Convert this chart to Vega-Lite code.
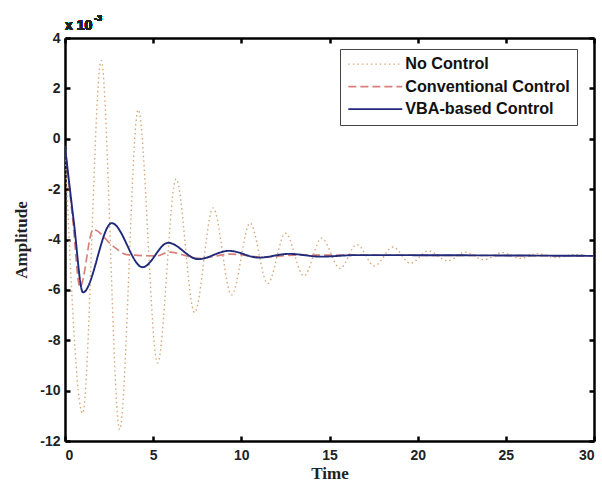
{
  "$schema": "https://vega.github.io/schema/vega-lite/v6.json",
  "width": 529,
  "height": 403,
  "autosize": {"type": "none"},
  "padding": {"left": 65, "top": 38, "right": 8, "bottom": 48},
  "background": "white",
  "config": {
    "view": {"stroke": null},
    "axis": {
      "domainColor": "#000",
      "domainWidth": 2.5,
      "tickColor": "#000",
      "tickWidth": 2.5,
      "tickSize": -5,
      "grid": false,
      "labelFont": "Liberation Sans",
      "labelFontWeight": "bold",
      "labelFontSize": 14,
      "labelColor": "#222",
      "titleFont": "Liberation Serif",
      "titleFontWeight": "bold",
      "titleFontSize": 17,
      "titleColor": "#222"
    }
  },
  "datasets": {
    "curves": [
      {"t": 0, "v": -0.3, "s": "No Control"},
      {"t": 1.0, "v": -10.9, "s": "No Control"},
      {"t": 2.05, "v": 3.1, "s": "No Control"},
      {"t": 3.1, "v": -11.55, "s": "No Control"},
      {"t": 4.15, "v": 1.15, "s": "No Control"},
      {"t": 5.25, "v": -8.9, "s": "No Control"},
      {"t": 6.3, "v": -1.6, "s": "No Control"},
      {"t": 7.35, "v": -6.9, "s": "No Control"},
      {"t": 8.4, "v": -2.75, "s": "No Control"},
      {"t": 9.45, "v": -6.2, "s": "No Control"},
      {"t": 10.5, "v": -3.35, "s": "No Control"},
      {"t": 11.5, "v": -5.75, "s": "No Control"},
      {"t": 12.5, "v": -3.75, "s": "No Control"},
      {"t": 13.55, "v": -5.45, "s": "No Control"},
      {"t": 14.55, "v": -3.95, "s": "No Control"},
      {"t": 15.6, "v": -5.15, "s": "No Control"},
      {"t": 16.55, "v": -4.2, "s": "No Control"},
      {"t": 17.55, "v": -5.05, "s": "No Control"},
      {"t": 18.6, "v": -4.3, "s": "No Control"},
      {"t": 19.6, "v": -4.95, "s": "No Control"},
      {"t": 20.6, "v": -4.45, "s": "No Control"},
      {"t": 21.7, "v": -4.85, "s": "No Control"},
      {"t": 22.7, "v": -4.5, "s": "No Control"},
      {"t": 23.75, "v": -4.8, "s": "No Control"},
      {"t": 24.8, "v": -4.52, "s": "No Control"},
      {"t": 25.8, "v": -4.75, "s": "No Control"},
      {"t": 26.8, "v": -4.56, "s": "No Control"},
      {"t": 27.85, "v": -4.72, "s": "No Control"},
      {"t": 28.9, "v": -4.6, "s": "No Control"},
      {"t": 30, "v": -4.68, "s": "No Control"},
      {"t": 0, "v": -0.3, "s": "Conventional Control"},
      {"t": 0.45, "v": -3.3, "s": "Conventional Control"},
      {"t": 0.85, "v": -5.9, "s": "Conventional Control"},
      {"t": 1.6, "v": -3.6, "s": "Conventional Control"},
      {"t": 2.7, "v": -4.25, "s": "Conventional Control"},
      {"t": 3.5, "v": -4.6, "s": "Conventional Control"},
      {"t": 5.2, "v": -4.65, "s": "Conventional Control"},
      {"t": 5.9, "v": -4.5, "s": "Conventional Control"},
      {"t": 7.6, "v": -4.75, "s": "Conventional Control"},
      {"t": 9.4, "v": -4.58, "s": "Conventional Control"},
      {"t": 11.2, "v": -4.7, "s": "Conventional Control"},
      {"t": 13.0, "v": -4.62, "s": "Conventional Control"},
      {"t": 30, "v": -4.65, "s": "Conventional Control"},
      {"t": 0, "v": -0.3, "s": "VBA-based Control"},
      {"t": 0.5, "v": -3.3, "s": "VBA-based Control"},
      {"t": 1.02, "v": -6.1, "s": "VBA-based Control"},
      {"t": 2.65, "v": -3.35, "s": "VBA-based Control"},
      {"t": 4.4, "v": -5.1, "s": "VBA-based Control"},
      {"t": 5.85, "v": -4.13, "s": "VBA-based Control"},
      {"t": 7.55, "v": -4.78, "s": "VBA-based Control"},
      {"t": 9.3, "v": -4.45, "s": "VBA-based Control"},
      {"t": 11.0, "v": -4.72, "s": "VBA-based Control"},
      {"t": 12.7, "v": -4.57, "s": "VBA-based Control"},
      {"t": 14.5, "v": -4.68, "s": "VBA-based Control"},
      {"t": 16.5, "v": -4.62, "s": "VBA-based Control"},
      {"t": 30, "v": -4.65, "s": "VBA-based Control"}
    ]
  },
  "data": {"name": "curves"},
  "layer": [
    {
      "mark": {"type": "line", "interpolate": "monotone", "clip": true},
      "encoding": {
        "x": {
          "field": "t", "type": "quantitative",
          "scale": {"domain": [0, 30], "nice": false, "zero": false},
          "axis": {"orient": "bottom", "values": [0, 5, 10, 15, 20, 25, 30], "labelPadding": 12, "title": "Time", "titlePadding": 3, "labelExpr": "'' + datum.value"}
        },
        "y": {
          "field": "v", "type": "quantitative",
          "scale": {"domain": [-12, 4], "nice": false, "zero": false},
          "axis": {"orient": "left", "values": [-12, -10, -8, -6, -4, -2, 0, 2, 4], "labelPadding": 10, "title": "Amplitude", "titlePadding": 9, "labelExpr": "'' + datum.value"}
        },
        "color": {
          "field": "s", "type": "nominal",
          "scale": {"domain": ["No Control", "Conventional Control", "VBA-based Control"], "range": ["#d8a878", "#d97f7a", "#1f2a7a"]},
          "legend": {
            "orient": "none", "legendX": 275, "legendY": 11, "title": null,
            "strokeColor": "#444", "fillColor": "white", "padding": 7,
            "labelFont": "Liberation Sans", "labelFontSize": 16.2, "labelFontWeight": "bold", "labelColor": "#111", "labelLimit": 400,
            "symbolSize": 182, "rowPadding": 5.5, "symbolType": "M-1,0L7,0", "labelOffset": 42
          }
        },
        "strokeDash": {
          "field": "s", "type": "nominal",
          "scale": {"domain": ["No Control", "Conventional Control", "VBA-based Control"], "range": [[1.5, 3], [8, 4], [1, 0]]},
          "legend": {
            "orient": "none", "legendX": 275, "legendY": 11, "title": null
          }
        },
        "strokeWidth": {
          "field": "s", "type": "nominal",
          "scale": {"domain": ["No Control", "Conventional Control", "VBA-based Control"], "range": [1.4, 1.9, 2.8]},
          "legend": {
            "orient": "none", "legendX": 275, "legendY": 11, "title": null
          }
        }
      }
    },
    {
      "mark": {"type": "line", "opacity": 0},
      "encoding": {
        "x": {
          "field": "t", "type": "quantitative",
          "scale": {"domain": [0, 30], "nice": false, "zero": false},
          "axis": {"orient": "top", "values": [0, 5, 10, 15, 20, 25, 30], "labels": false, "title": null}
        },
        "y": {
          "field": "v", "type": "quantitative",
          "scale": {"domain": [-12, 4], "nice": false, "zero": false},
          "axis": {"orient": "right", "values": [-12, -10, -8, -6, -4, -2, 0, 2, 4], "labels": false, "title": null}
        }
      }
    },
    {
      "mark": {"type": "text", "align": "left", "baseline": "alphabetic", "dx": 0, "dy": -8, "font": "Liberation Sans", "fontWeight": "bold", "fontSize": 14, "color": "#222"},
      "encoding": {
        "x": {"datum": 0, "type": "quantitative", "axis": null},
        "y": {"datum": 4, "type": "quantitative", "axis": null},
        "text": {"value": "x 10"}
      }
    },
    {
      "mark": {"type": "text", "align": "left", "baseline": "alphabetic", "dx": 29, "dy": -17, "font": "Liberation Sans", "fontWeight": "bold", "fontSize": 9, "color": "#222"},
      "encoding": {
        "x": {"datum": 0, "type": "quantitative", "axis": null},
        "y": {"datum": 4, "type": "quantitative", "axis": null},
        "text": {"value": "-3"}
      }
    }
  ],
  "resolve": {"axis": {"x": "independent", "y": "independent"}}
}
